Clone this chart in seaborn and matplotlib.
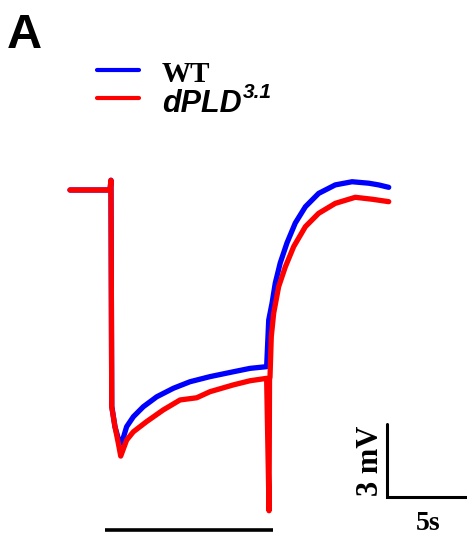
import numpy as np
import pandas as pd
import seaborn as sns
from matplotlib import pyplot as plt

# ERG traces, time in s (light on at 0), response in mV relative to baseline
wt_time = [-2.5, 0.0, 0.06, 0.11, 0.31, 0.55, 0.73, 1.04, 1.46, 2.08, 2.92, 3.96,
           5.0, 6.25, 7.71, 8.75, 9.79, 9.92, 10.13, 10.33, 10.64, 11.06, 11.58,
           12.21, 13.04, 14.08, 15.13, 16.17, 16.79, 17.42]
wt_mv = [0.0, 0.0, 0.4, -8.9, -9.74, -10.3, -10.42, -9.74, -9.33, -8.92, -8.51, -8.16,
         -7.89, -7.68, -7.48, -7.34, -7.27, -5.35, -4.65, -3.83, -3.0, -2.18, -1.36,
         -0.69, -0.14, 0.21, 0.34, 0.28, 0.21, 0.11]

pld_time = [-2.5, 0.0, 0.06, 0.11, 0.31, 0.52, 0.67, 1.04, 1.46, 2.29, 3.33, 4.38,
            5.42, 6.25, 7.71, 8.75, 9.79, 9.94, 9.97, 10.0, 10.08, 10.23, 10.54,
            10.96, 11.48, 12.21, 13.04, 14.08, 15.33, 16.38, 17.42]
pld_mv = [0.0, 0.0, 0.4, -8.93, -9.74, -10.42, -10.95, -10.29, -9.95, -9.53, -9.05,
          -8.64, -8.55, -8.3, -8.02, -7.85, -7.75, -13.2, -7.8, -7.7, -6.04, -5.07,
          -3.98, -3.16, -2.33, -1.51, -0.96, -0.55, -0.3, -0.38, -0.48]

genotypes = ["WT", "dPLD3.1"]
colors = ["#0000ff", "#ff0000"]

stim_on, stim_off = -0.3, 10.2
bar_mv, bar_s = 3, 5

df = pd.concat([
    pd.DataFrame({"t": wt_time, "mV": wt_mv, "genotype": genotypes[0]}),
    pd.DataFrame({"t": pld_time, "mV": pld_mv, "genotype": genotypes[1]}),
], ignore_index=True)

sns.set_style("white")
plt.rcParams["text.color"] = "black"
W, H = 467, 543
fig = plt.figure(figsize=(W / 100, H / 100), dpi=100)
ax = fig.add_axes([0, 0, 1, 1])

# 16 px per second, 24.3 px per mV, light-on at x=110, baseline at y=190
ax.set_xlim(-110 / 16, (W - 110) / 16)
ax.set_ylim((190 - H) / 24.3, 190 / 24.3)

sns.lineplot(data=df, x="t", y="mV", hue="genotype", palette=dict(zip(genotypes, colors)),
             sort=False, estimator=None, lw=3.8, legend=False, ax=ax,
             solid_capstyle="round", solid_joinstyle="round")
ax.set_axis_off()

# light stimulus bar
ax.plot([stim_on, stim_off], [-14.0, -14.0], color="black", lw=2.6, solid_capstyle="butt")

# scale bar
sb_x, sb_y = (387 - 110) / 16, (190 - 497) / 24.3
ax.plot([sb_x, sb_x, sb_x + bar_s], [sb_y + bar_mv, sb_y, sb_y], color="black", lw=2.2,
        solid_joinstyle="miter")


def fx(x):
    return x / W


def fy(y):
    return 1 - y / H


fig.text(fx(370), fy(461), "3 mV", rotation=90, ha="center", va="center",
         family="Liberation Serif", weight="bold", fontsize=22)
fig.text(fx(428), fy(524), "5s", ha="center", va="center",
         family="Liberation Serif", weight="bold", fontsize=20)

# panel letter
fig.text(fx(7), fy(48), "A", ha="left", va="baseline", family="Liberation Sans",
         weight="bold", fontsize=35)

# legend
for yy, c in zip([70, 98], colors):
    fig.add_artist(plt.Line2D([fx(97), fx(139)], [fy(yy), fy(yy)], color=c, lw=3))
fig.text(fx(162), fy(82), "WT", ha="left", va="baseline", family="Liberation Serif",
         weight="bold", fontsize=21)
fig.text(fx(162), fy(112), "dPLD", ha="left", va="baseline", family="Liberation Sans",
         weight="bold", style="italic", fontsize=22)
fig.text(fx(243), fy(98), "3.1", ha="left", va="baseline", family="Liberation Sans",
         weight="bold", style="italic", fontsize=15)

fig.savefig("out.png", dpi=100)
